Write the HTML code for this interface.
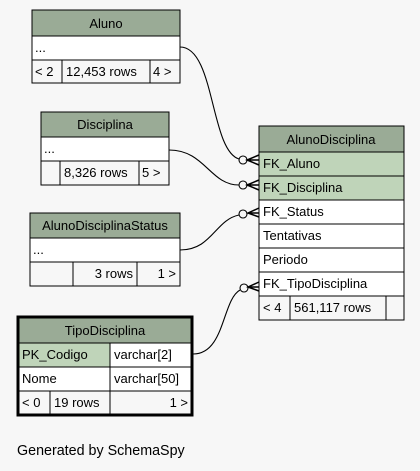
<!DOCTYPE html>
<html><head><meta charset="utf-8"><style>
html,body{margin:0;padding:0;background:#f7f7f7;width:420px;height:471px;overflow:hidden}
svg text{font-family:"Liberation Sans",sans-serif;font-size:13px;fill:#000}
</style></head><body>
<svg width="420" height="471" viewBox="0 0 420 471" xmlns="http://www.w3.org/2000/svg">
<rect width="420" height="471" fill="#f7f7f7"/>
<g fill="none" stroke="#000" stroke-width="1.1">
<path d="M180,47 C215,47 210,150 239,159"/>
<path d="M169,150 C205,150 210,185 239,185"/>
<path d="M180,250 C212,250 215,220 239,215"/>
<path d="M193,354 C225,354 222,300 240,290"/>
</g>
<g fill="#f7f7f7" stroke="#000" stroke-width="1.1">
<circle cx="243" cy="160" r="4"/><circle cx="243" cy="185" r="4"/>
<circle cx="243" cy="214" r="4"/><circle cx="244" cy="288" r="4"/>
</g>
<g stroke="#000" stroke-width="1.5" fill="none">
<path d="M259,155 L247,160 L259,165 M247,160 L259,160"/>
<path d="M259,180 L247,185 L259,190 M247,185 L259,185"/>
<path d="M259,208 L248,213 L259,217 M248,213 L259,213"/>
<path d="M259,282 L248,287 L259,291 M248,287 L259,287"/>
</g>
<g stroke="#000" stroke-width="1">
<rect x="32" y="10" width="148" height="26" fill="#9aab96"/>
<rect x="32" y="36" width="148" height="24" fill="#fff"/>
<rect x="32" y="60" width="148" height="23" fill="#f7f7f7"/>
<line x1="62" y1="60" x2="62" y2="83"/><line x1="150" y1="60" x2="150" y2="83"/>
</g>
<text x="106" y="28" text-anchor="middle">Aluno</text>
<text x="35" y="52">...</text>
<text x="35" y="76">&lt; 2</text><text x="66" y="76">12,453 rows</text><text x="153" y="76">4 &gt;</text>
<g stroke="#000" stroke-width="1">
<rect x="41" y="112" width="128" height="25" fill="#9aab96"/>
<rect x="41" y="137" width="128" height="24" fill="#fff"/>
<rect x="41" y="161" width="128" height="24" fill="#f7f7f7"/>
<line x1="60" y1="161" x2="60" y2="185"/><line x1="139" y1="161" x2="139" y2="185"/>
</g>
<text x="105" y="129" text-anchor="middle">Disciplina</text>
<text x="44" y="153">...</text>
<text x="64" y="177">8,326 rows</text><text x="142" y="177">5 &gt;</text>
<g stroke="#000" stroke-width="1">
<rect x="30" y="213" width="150" height="25" fill="#9aab96"/>
<rect x="30" y="238" width="150" height="24" fill="#fff"/>
<rect x="30" y="262" width="150" height="24" fill="#f7f7f7"/>
<line x1="73" y1="262" x2="73" y2="286"/><line x1="137" y1="262" x2="137" y2="286"/>
</g>
<text x="105" y="230" text-anchor="middle">AlunoDisciplinaStatus</text>
<text x="33" y="254">...</text>
<text x="133" y="278" text-anchor="end">3 rows</text><text x="176" y="278" text-anchor="end">1 &gt;</text>
<rect x="18" y="317" width="174" height="98" fill="none" stroke="#000" stroke-width="3"/>
<g stroke="#000" stroke-width="1">
<rect x="19" y="318" width="172" height="25" fill="#9aab96"/>
<rect x="19" y="343" width="91" height="24" fill="#bfd4b9"/>
<rect x="110" y="343" width="81" height="24" fill="#fff"/>
<rect x="19" y="367" width="172" height="24" fill="#fff"/>
<rect x="19" y="391" width="172" height="23" fill="#f7f7f7"/>
<line x1="110" y1="367" x2="110" y2="414"/><line x1="50" y1="391" x2="50" y2="414"/>
</g>
<text x="105" y="335" text-anchor="middle">TipoDisciplina</text>
<text x="22" y="359">PK_Codigo</text><text x="114" y="359">varchar[2]</text>
<text x="22" y="383">Nome</text><text x="114" y="383">varchar[50]</text>
<text x="22" y="407">&lt; 0</text><text x="54" y="407">19 rows</text><text x="188" y="407" text-anchor="end">1 &gt;</text>
<g stroke="#000" stroke-width="1">
<rect x="259" y="126" width="145" height="26" fill="#9aab96"/>
<rect x="259" y="152" width="145" height="24" fill="#bfd4b9"/>
<rect x="259" y="176" width="145" height="24" fill="#bfd4b9"/>
<rect x="259" y="200" width="145" height="24" fill="#fff"/>
<rect x="259" y="224" width="145" height="24" fill="#fff"/>
<rect x="259" y="248" width="145" height="24" fill="#fff"/>
<rect x="259" y="272" width="145" height="24" fill="#fff"/>
<rect x="259" y="296" width="145" height="24" fill="#f7f7f7"/>
<line x1="290" y1="296" x2="290" y2="320"/><line x1="386" y1="296" x2="386" y2="320"/>
</g>
<text x="331" y="144" text-anchor="middle">AlunoDisciplina</text>
<text x="263" y="168">FK_Aluno</text>
<text x="263" y="192">FK_Disciplina</text>
<text x="263" y="216">FK_Status</text>
<text x="263" y="240">Tentativas</text>
<text x="263" y="264">Periodo</text>
<text x="263" y="288">FK_TipoDisciplina</text>
<text x="263" y="312">&lt; 4</text><text x="294" y="312">561,117 rows</text>
<text x="17" y="455" style="font-size:14.3px">Generated by SchemaSpy</text>
</svg>
</body></html>
